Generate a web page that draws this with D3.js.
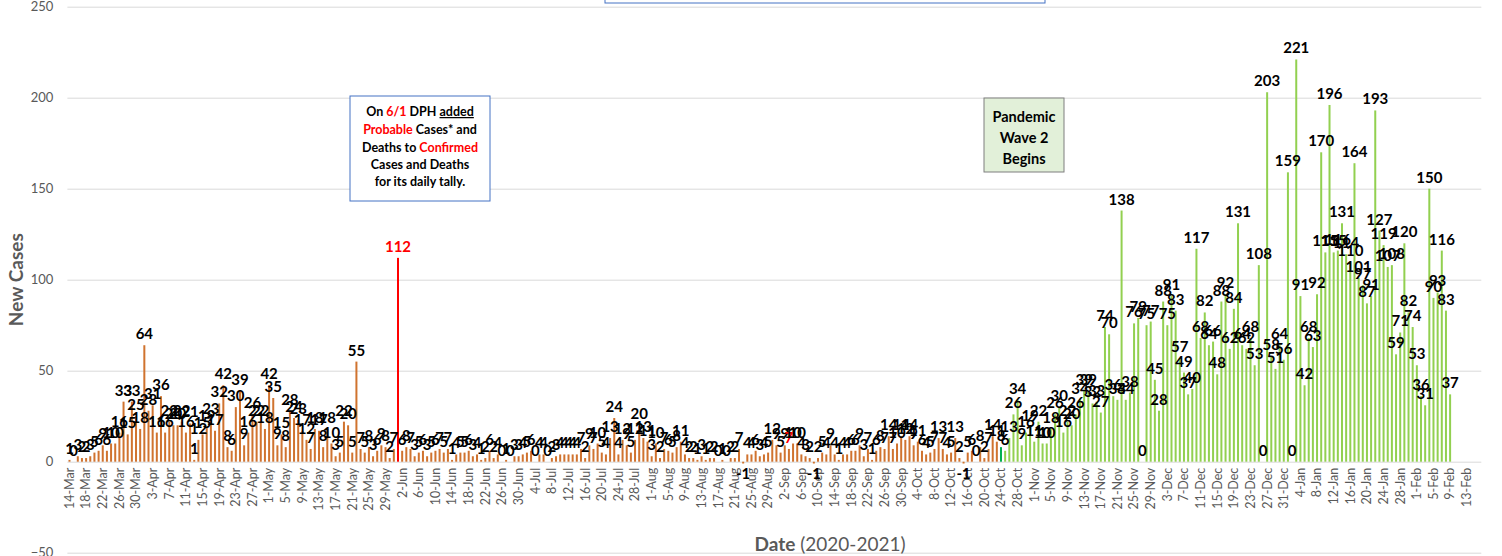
<!DOCTYPE html>
<html>
<head>
<meta charset="utf-8">
<script src="https://cdn.jsdelivr.net/npm/d3@7"></script>
<style>
  body { margin: 0; background: #fff; }
  text { font-family: Lato, "Open Sans", sans-serif; }
</style>
</head>
<body>
<svg id="chart" width="1502" height="556"></svg>
<script>
// daily new cases, one array per month (first value = 14-Mar-2020)
var mar20 = [1,0,3,2,2,3,5,6,9,6,10,10,16,33,15,33,25,18];
var apr20 = [64,28,31,16,36,16,22,20,20,22,16,21,1,12,15,19,23,17,32,42,8,6,30,39,9,16,26,22,22,18];
var may20 = [42,35,9,15,8,28,24,23,17,12,7,18,17,8,18,10,3,5,22,20,5,55,7,5,8,3,6,9,8,2,7];
var jun20 = [112,6,8,7,3,5,6,3,5,6,7,5,7,1,4,5,5,6,3,4,1,2,6,2,4,0,1,0,3,3];
var jul20 = [4,5,6,0,4,4,0,2,3,4,4,4,4,4,7,2,9,7,10,5,4,13,24,4,12,9,5,12,20,13,11];
var aug20 = [3,10,2,7,6,5,8,11,4,2,2,1,3,1,2,2,0,1,0,2,2,7,-1,4,4,6,3,4,5,12,9];
var sep20 = [5,9,7,10,10,4,3,2,-1,2,5,4,9,4,1,4,4,6,6,9,3,7,1,6,8,7,14,7,10,14];
var oct20 = [12,14,9,11,6,4,5,7,13,7,4,5,13,2,-1,5,6,0,8,2,7,14,11,8,6,13,26,34,9,16,19];
var nov20 = [11,22,10,10,18,26,30,16,22,20,26,34,39,39,32,33,27,74,70,36,34,138,34,38,76,79,0,75,77,45];
var dec20 = [28,88,75,91,83,57,49,37,40,117,68,82,64,66,48,88,92,62,84,131,64,62,68,53,108,0,203,58,51,64,56];
var jan21 = [159,0,221,91,42,68,63,92,170,115,196,115,116,131,114,110,164,101,97,87,91,193,127,119,107,108,59,71,120,82,74];
var feb21 = [53,36,31,150,90,93,116,83,37];

var firstDay = new Date(2020, 2, 14);
var lastAxisDay = new Date(2021, 1, 16);
var wave2Start = new Date(2020, 9, 24);       // first bar of wave 2
var redLabelDays = ["1-Jun", "3-Sep"];          // labels drawn in red
var yTicks = [-50, 0, 50, 100, 150, 200, 250];

var cases = [].concat(mar20, apr20, may20, jun20, jul20, aug20, sep20, oct20, nov20, dec20, jan21, feb21);
var days = d3.timeDay.range(firstDay, d3.timeDay.offset(lastAxisDay, 1));
var fmt = d3.timeFormat("%-d-%b");
var data = cases.map(function(v, i) { return {day: days[i], value: v}; });

var svg = d3.select("#chart");
var plotL = 67.4, plotR = 1481.3, plotT = 6.7, plotB = 552.7;

var x = d3.scaleBand().domain(days).range([plotL, plotR]).padding(0);
var y = d3.scaleLinear().domain([-50, 250]).range([plotB, plotT]);
var cx = function(d) { return x(d) + x.bandwidth() / 2; };

// gridlines + y labels
var yAxis = svg.append("g")
  .attr("transform", "translate(" + plotL + ",0)")
  .call(d3.axisLeft(y).tickValues(yTicks).tickSize(-(plotR - plotL)).tickPadding(14));
yAxis.select(".domain").remove();
yAxis.selectAll(".tick line").attr("stroke", "#d9d9d9").attr("stroke-width", 1);
yAxis.selectAll(".tick text").attr("fill", "#595959").style("font-size", "13px")
  .style("font-family", "Lato, 'Open Sans', sans-serif");

// x axis labels
var xAxis = svg.append("g")
  .attr("transform", "translate(0," + y(0) + ")")
  .call(d3.axisBottom(x).tickValues(days.filter(function(d, i) { return i % 4 === 0; }))
    .tickFormat(fmt).tickSize(0));
xAxis.select(".domain").remove();
xAxis.selectAll(".tick text")
  .attr("transform", "rotate(-90)")
  .attr("x", -6).attr("y", 0).attr("dy", "0.35em")
  .attr("text-anchor", "end")
  .attr("fill", "#595959")
  .style("font-size", "12.5px")
  .style("font-family", "Lato, 'Open Sans', sans-serif");

// bars
svg.append("g").selectAll("rect")
  .data(data)
  .enter()
  .append("rect")
  .attr("x", function(d) { return cx(d.day) - 1; })
  .attr("width", 2)
  .attr("y", function(d) { return y(Math.max(0, d.value)); })
  .attr("height", function(d) { return Math.abs(y(d.value) - y(0)); })
  .attr("fill", function(d) {
    if (fmt(d.day) === "1-Jun") return "#ff0000";
    if (+d.day === +wave2Start) return "#00b050";
    return d.day > wave2Start ? "#92d050" : "#d0732f";
  });

// data labels
svg.append("g").selectAll("text")
  .data(data)
  .enter()
  .append("text")
  .attr("x", function(d) { return cx(d.day); })
  .attr("y", function(d) { return d.value < 0 ? y(d.value) + 15 : y(d.value) - 6; })
  .attr("text-anchor", "middle")
  .style("font-size", "15px")
  .style("font-weight", "bold")
  .attr("fill", function(d) { return redLabelDays.indexOf(fmt(d.day)) >= 0 ? "#ff0000" : "#000"; })
  .text(function(d) { return d.value; });

// axis titles
svg.append("text")
  .attr("transform", "translate(23," + y(100) + ") rotate(-90)")
  .attr("text-anchor", "middle")
  .attr("fill", "#595959")
  .style("font-size", "19px").style("font-weight", "bold")
  .text("New Cases");

var xt = svg.append("text")
  .attr("x", 830).attr("y", 551)
  .attr("text-anchor", "middle")
  .attr("fill", "#595959")
  .style("font-size", "19px");
xt.append("tspan").style("font-weight", "bold").text("Date");
xt.append("tspan").text(" (2020-2021)");

// title box (cut off at top)
svg.append("rect").attr("x", 605).attr("y", -20).attr("width", 440).attr("height", 23)
  .attr("fill", "#fff").attr("stroke", "#4472c4");

// note box
svg.append("rect").attr("x", 350).attr("y", 96).attr("width", 140).attr("height", 105)
  .attr("fill", "#fff").attr("stroke", "#4472c4");
var note = svg.append("text").attr("text-anchor", "middle").style("font-size", "12.5px").style("font-weight", "bold");
var l1 = note.append("tspan").attr("x", 420).attr("y", 116);
l1.append("tspan").text("On ");
l1.append("tspan").attr("fill", "#ff0000").text("6/1");
l1.append("tspan").text(" DPH ");
l1.append("tspan").style("text-decoration", "underline").text("added");
var l2 = note.append("tspan").attr("x", 420).attr("y", 134);
l2.append("tspan").attr("fill", "#ff0000").text("Probable");
l2.append("tspan").text(" Cases* and");
var l3 = note.append("tspan").attr("x", 420).attr("y", 152);
l3.append("tspan").text("Deaths to ");
l3.append("tspan").attr("fill", "#ff0000").text("Confirmed");
note.append("tspan").attr("x", 420).attr("y", 169).text("Cases and Deaths");
note.append("tspan").attr("x", 420).attr("y", 186).text("for its daily tally.");

// wave 2 box
svg.append("rect").attr("x", 984).attr("y", 98).attr("width", 80).attr("height", 74)
  .attr("fill", "#e2f0d9").attr("stroke", "#7f7f7f");
var w2 = svg.append("text").attr("text-anchor", "middle").style("font-size", "14.5px").style("font-weight", "bold");
["Pandemic", "Wave 2", "Begins"].forEach(function(t, i) {
  w2.append("tspan").attr("x", 1024).attr("y", 122 + i * 21).text(t);
});
</script>
</body>
</html>
